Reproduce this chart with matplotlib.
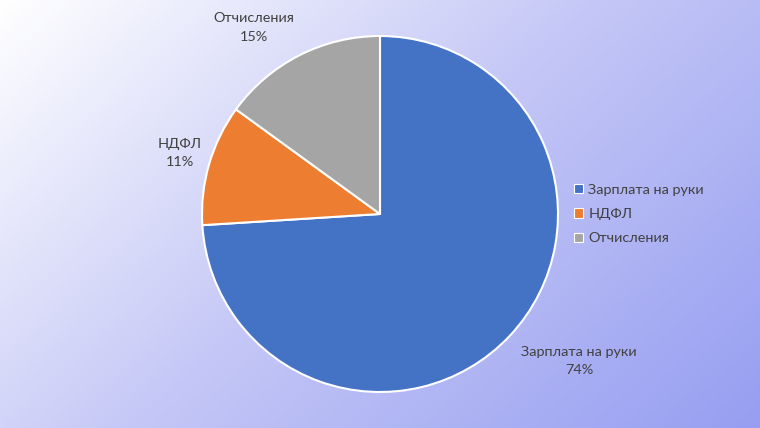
import numpy as np
import matplotlib.pyplot as plt
from matplotlib.colors import LinearSegmentedColormap
from matplotlib.patches import Patch

plt.rcParams['font.family'] = ['Lato', 'DejaVu Sans']

categories = ["Зарплата на руки", "НДФЛ", "Отчисления"]
shares = [74, 11, 15]
colors = ["#4472C4", "#ED7D31", "#A5A5A5"]

# label positions (data coords, pie radius = 1)
label_pos = [(1.118, -0.826), (-1.124, 0.343), (-0.708, 1.048)]

fig = plt.figure(figsize=(7.6, 4.28), dpi=100)

# gradient background
bg = fig.add_axes([0, 0, 1, 1])
W, H = 760, 428
xx, yy = np.meshgrid(np.linspace(0, 1, W), np.linspace(0, 1, H))
t = 0.62 * xx + 0.38 * yy
cmap = LinearSegmentedColormap.from_list("bg", ["#FFFFFF", "#C3C6F6", "#979EF1"])
bg.imshow(t, cmap=cmap, vmin=0, vmax=1, aspect="auto", extent=[0, 1, 0, 1])
bg.axis("off")

cx, cy, r = 380, 214, 178
ax = fig.add_axes([(cx - r) / W, (H - cy - r) / H, 2 * r / W, 2 * r / H])
wedges, _ = ax.pie(shares, colors=colors, startangle=90, counterclock=False,
                   radius=1, wedgeprops=dict(edgecolor="white", linewidth=1.5))
ax.set_xlim(-1, 1)
ax.set_ylim(-1, 1)
ax.set_aspect("equal")
ax.axis("off")

for name, val, (lx, ly) in zip(categories, shares, label_pos):
    ax.text(lx, ly, f"{name}\n{val}%", ha="center", va="center",
            fontsize=10.4, color="#404040", linespacing=1.62, clip_on=False)

handles = [Patch(facecolor=c, edgecolor="white", linewidth=0.8) for c in colors]
fig.legend(handles, categories, loc="upper left",
           bbox_to_anchor=(561 / W, 1 - 171 / H), frameon=False,
           handlelength=0.6, handleheight=0.6, handletextpad=0.4,
           labelspacing=0.84, fontsize=10.4, labelcolor="#404040")

fig.savefig("out.png", dpi=100)
